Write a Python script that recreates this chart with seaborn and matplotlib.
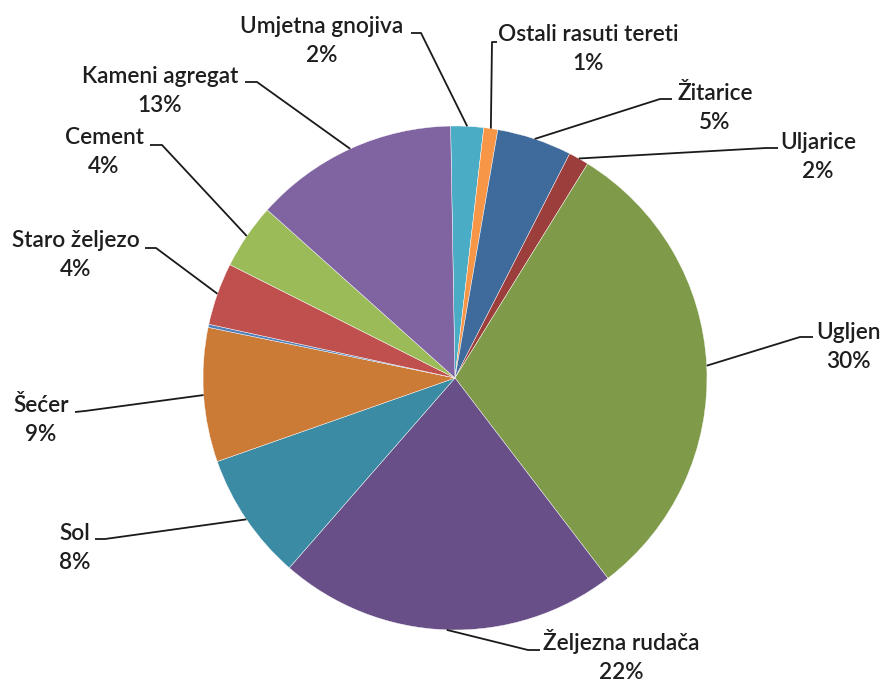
import numpy as np
import matplotlib
matplotlib.use('Agg')
import matplotlib.pyplot as plt
import seaborn as sns

# slice data, clockwise from the top
categories = ['Umjetna gnojiva', 'Ostali rasuti tereti', 'Žitarice', 'Uljarice', 'Ugljen',
              'Željezna rudača', 'Sol', 'Šećer', '', 'Staro željezo', 'Cement', 'Kameni agregat']
shares = [2.1, 0.9, 4.8, 1.3, 30.8, 21.8, 8.2, 8.6, 0.2, 4.0, 4.2, 13.1]
pct_labels = ['2%', '1%', '5%', '2%', '30%', '22%', '8%', '9%', '', '4%', '4%', '13%']
slice_colors = ['#4BACC6', '#F79646', '#3F6A9C', '#9C3E3B', '#7F9B4A', '#684F87',
                '#3A8BA3', '#CC7B37', '#4F81BD', '#C0504D', '#9BBB59', '#8064A2']

W, H = 883, 684
sns.set_theme(style='white')
plt.rcParams['font.family'] = ['Lato', 'DejaVu Sans']

# label layout in pixels: (text centre x, name baseline y, leader end, leader elbow)
layout = {
    'Umjetna gnojiva': (322, 33, (411, 33), (421, 33)),
    'Ostali rasuti tereti': (588, 41, (497, 42), (492, 42)),
    'Žitarice': (715, 100, (672, 99), (660, 99)),
    'Uljarice': (818, 149, (778, 148), (766, 148)),
    'Ugljen': (848, 339, (813, 337), (800, 337)),
    'Željezna rudača': (621, 650, (540, 650), (528, 650)),
    'Sol': (75, 540, (95, 539), (105, 539)),
    'Šećer': (41, 412, (75, 412), (85, 411)),
    'Staro željezo': (76, 247, (145, 248), (156, 248)),
    'Cement': (104, 144, (150, 145), (162, 145)),
    'Kameni agregat': (160, 83, (245, 82), (257, 82)),
}

fig = plt.figure(figsize=(W / 100, H / 100), dpi=100)
ax = fig.add_axes([0, 0, 1, 1])
cx, cy, r = 455, H - 378, 252
wedges, _ = ax.pie(shares, colors=sns.color_palette(slice_colors), startangle=91,
                   counterclock=False, center=(cx, cy), radius=r,
                   wedgeprops=dict(linewidth=0.3, edgecolor='white'))
ax.set_xlim(0, W)
ax.set_ylim(0, H)
ax.set_aspect('equal')
ax.axis('off')

for w, name, pct in zip(wedges, categories, pct_labels):
    if not name:
        continue
    mid = np.deg2rad((w.theta1 + w.theta2) / 2)
    px, py = cx + r * np.cos(mid), cy + r * np.sin(mid)
    tx, ty, end, elbow = layout[name]
    ax.plot([px, elbow[0], end[0]], [py, H - elbow[1], H - end[1]],
            color='#1a1a1a', lw=1.3, solid_capstyle='butt')
    ax.text(tx, H - ty, name, ha='center', va='baseline', fontsize=16.3,
            fontweight='semibold', color='#1e1e1e')
    ax.text(tx, H - ty - 29, pct, ha='center', va='baseline', fontsize=16.3,
            fontweight='semibold', color='#1e1e1e')

fig.savefig('out.png', dpi=100)
